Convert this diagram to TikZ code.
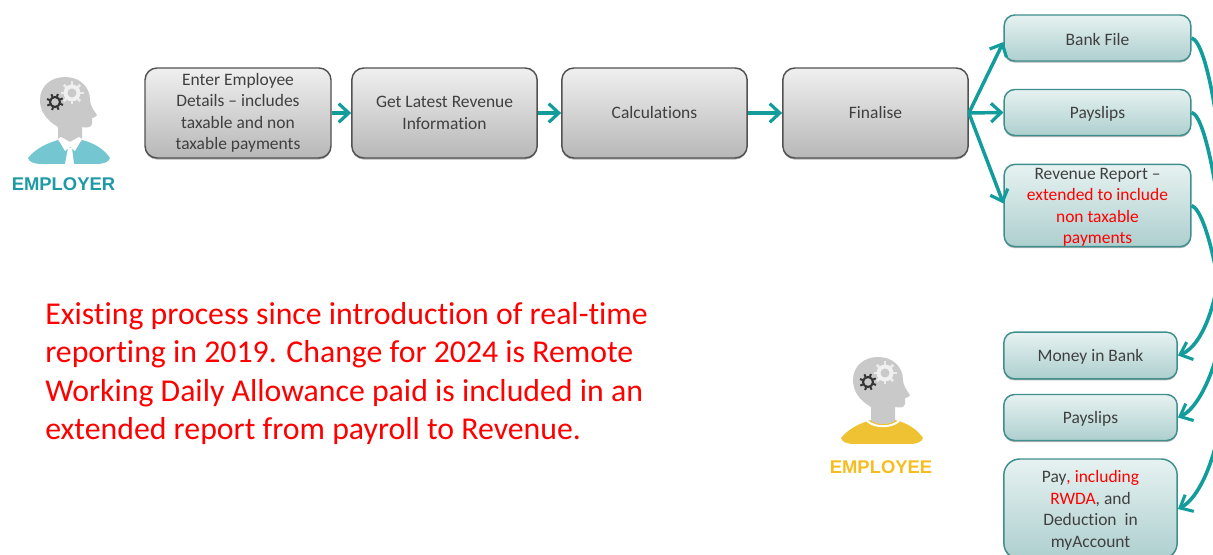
\documentclass[tikz,border=0pt]{standalone}
\usepackage{fontspec}
\setmainfont{Carlito}[Ligatures={NoCommon}]
\newfontfamily\labelfont{Liberation Sans}
\usetikzlibrary{arrows.meta,shadows}
\newcommand{\topgap}{\rule{0pt}{11.2pt}}
\definecolor{flow}{HTML}{129C9C}
\definecolor{txt}{HTML}{404040}
\definecolor{headgrey}{HTML}{C9C9C9}
\definecolor{gearDark}{HTML}{333333}
\definecolor{shirtTeal}{HTML}{74C6D0}
\definecolor{shirtGold}{HTML}{EEC233}
\definecolor{labelTeal}{HTML}{1E9AA6}
\definecolor{labelGold}{HTML}{F7BC1E}
\definecolor{tealEdge}{HTML}{3F8F8F}
\definecolor{tealTop}{HTML}{E6F2F1}
\definecolor{tealBottom}{HTML}{AECFCF}
\tikzset{
  basebox/.style={rounded corners=9pt,line width=1.1pt,align=center,inner sep=0pt,
    text=txt,font=\fontsize{13.1}{16.1}\selectfont,
    drop shadow={shadow xshift=0pt,shadow yshift=-1.2pt,opacity=.3,fill=black}},
  greybox/.style={basebox,draw=black!68,top color=black!6,bottom color=black!28},
  tealbox/.style={basebox,rounded corners=8pt,draw=tealEdge,top color=tealTop,bottom color=tealBottom},
  flowline/.style={draw=flow,line width=2.6pt,-{Straight Barb[length=7.5pt,width=14pt,line width=2.4pt]}},
  curveline/.style={draw=flow,line width=2.7pt,-{Straight Barb[length=8pt,width=14pt,line width=2.3pt]}},
  rolelabel/.style={font=\labelfont\bfseries\fontsize{13.8}{16}\selectfont},
  person/.pic={
    \fill[#1] (28,158) .. controls (36,148) and (48,143) .. (58,140) -- (82,140)
      .. controls (94,143) and (104,149) .. (110,158)
      .. controls (109,162) and (104,164) .. (96,164) -- (42,164)
      .. controls (34,164) and (29,162) .. (28,158) -- cycle;
    \fill[headgrey] (58,141) -- (58,127) .. controls (46,120) and (40,111) .. (40,100)
      .. controls (40,86) and (51,77) .. (65,77)
      .. controls (80,77) and (90,87) .. (90,100)
      .. controls (90,105) and (94,111) .. (97,115)
      .. controls (96,117) and (94,118) .. (92,118) -- (92,124)
      .. controls (91,128) and (86,128) .. (82,127) -- (82,141)
      .. controls (75,145) and (65,145) .. (58,141) -- cycle;
    \foreach \a in {0,45,...,315}{
      \draw[white!92!black,line width=2pt] (72,93) ++(\a:7) -- ++(\a:4.5);
      \draw[gearDark,line width=1.5pt] (55,102) ++(\a+20:5.5) -- ++(\a+20:3);
    }
    \fill[white!94!black] (72,93) circle[radius=8.5];
    \fill[headgrey] (72,93) circle[radius=4.5];
    \draw[gearDark,line width=1.5pt,fill=headgrey] (55,102) circle[radius=5];
  },
  collar/.pic={
    \fill[white] (58,139) -- (65,151) -- (70,147) -- (75,151) -- (82,139)
      -- (79,137) -- (70,142) -- (61,137) -- cycle;
    \fill[white] (68,148) -- (72,148) -- (74,164) -- (65,164) -- cycle;
  },
  neckline/.pic={
    \draw[white,line width=1.5pt] (54,141) .. controls (62,148) and (78,148) .. (86,141);
  }
}
\begin{document}
\begin{tikzpicture}[x=0.75pt,y=-0.75pt]
\useasboundingbox (0,0) rectangle (1213,555);
\clip (0,0) rectangle (1213,555);

\pic at (0,0) {person=shirtTeal};
\pic at (0,0) {collar};
\node[rolelabel,text=labelTeal] (employer) at (63.5,184) {EMPLOYER};

\pic at (813,280) {person=shirtGold};
\pic at (813,280) {neckline};
\node[rolelabel,text=labelGold] (employee) at (881,467) {EMPLOYEE};

\node[greybox,minimum width=139.5pt,minimum height=67.5pt] (enter) at (238,113)
  {Enter Employee\\Details – includes\\taxable and non\\taxable payments};
\node[greybox,minimum width=139pt,minimum height=67.5pt] (latest) at (444.5,113)
  {Get Latest Revenue\\Information};
\node[greybox,minimum width=139pt,minimum height=67.5pt] (calc) at (654.5,113) {Calculations};
\node[greybox,minimum width=139pt,minimum height=67.5pt] (final) at (875.5,113) {Finalise};

\node[tealbox,minimum width=140pt,minimum height=34.5pt] (bank) at (1097.5,38) {\topgap Bank File};
\node[tealbox,minimum width=140pt,minimum height=34.5pt] (pay1) at (1097.5,112.5) {\topgap Payslips};
\node[tealbox,minimum width=140pt,minimum height=61pt] (report) at (1097.5,205.5)
  {\topgap Revenue Report –\\\textcolor{red}{extended to include}\\\textcolor{red}{non taxable}\\\textcolor{red}{payments}};
\node[tealbox,minimum width=130pt,minimum height=35pt] (money) at (1090.5,355.5) {\topgap Money in Bank};
\node[tealbox,minimum width=130pt,minimum height=34.5pt] (pay2) at (1090.5,417.5) {\topgap Payslips};
\node[tealbox,rounded corners=12pt,minimum width=130pt,minimum height=75pt] (account) at (1090.5,509)
  {\topgap Pay\textcolor{red}{, including}\\\textcolor{red}{RWDA}, and\\Deduction\ \ in\\myAccount};

\node[anchor=west,align=left,text=red,inner sep=0pt,font=\fontsize{23.85}{28.6}\selectfont] (note) at (45,373.5)
  {Existing process since introduction of real-time\\
   reporting in 2019. Change for 2024 is Remote\\
   Working Daily Allowance paid is included in an\\
   extended report from payroll to Revenue.};

\draw[flowline] (enter.east) -- (latest.west);
\draw[flowline] (latest.east) -- (calc.west);
\draw[flowline] (calc.east) -- (final.west);
\draw[flowline] (final.east) -- ([yshift=-3pt]bank.west);
\draw[flowline] (final.east) -- (pay1.west);
\draw[flowline] (final.east) -- ([yshift=1.5pt]report.west);

\draw[curveline] (bank.east) .. controls (1208,42) and (1224,150) .. (1224,210)
  .. controls (1224,290) and (1205,345) .. (money.east);
\draw[curveline] (pay1.east) .. controls (1208,116) and (1224,230) .. (1226,280)
  .. controls (1228,340) and (1205,405) .. (pay2.east);
\draw[curveline] (report.east) .. controls (1208,212) and (1224,300) .. (1226,350)
  .. controls (1228,430) and (1205,495) .. (account.east);
\end{tikzpicture}
\end{document}
